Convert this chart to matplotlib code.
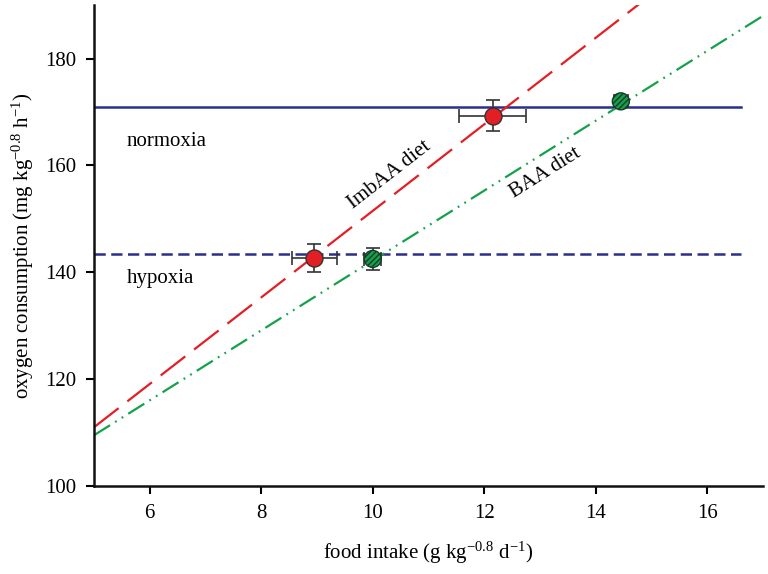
import numpy as np
import matplotlib
matplotlib.use("Agg")
import matplotlib.pyplot as plt

plt.rcParams["font.family"] = ["Liberation Serif", "DejaVu Serif"]
plt.rcParams["mathtext.fontset"] = "custom"
plt.rcParams["mathtext.rm"] = "Liberation Serif"
plt.rcParams["mathtext.it"] = "Liberation Serif:italic"
plt.rcParams["mathtext.default"] = "regular"

# 数据
imb_x = [8.95, 12.15]
imb_y = [142.7, 169.3]
imb_xerr = [0.4, 0.6]
imb_yerr = [2.6, 2.9]

baa_x = [10.0, 14.45]
baa_y = [142.5, 172.0]
baa_xerr = [0.15, 0.12]
baa_yerr = [2.0, 1.0]

imb_line_x = [5.0, 17.0]
imb_line_y = [111.0, 208.2]
baa_line_x = [5.0, 17.0]
baa_line_y = [109.5, 188.0]

normoxia = 171.0
hypoxia = 143.4
level_x = [5.0, 16.6]

fig = plt.figure(figsize=(7.68, 5.74), dpi=100)
ax = fig.add_axes([0.1224, 0.1533, 0.8711, 0.8377])

navy = "#2b2f8c"
red = "#e31e24"
green = "#13a24a"

ax.plot(level_x, [normoxia, normoxia], color=navy, lw=1.8, zorder=2)
ax.plot(level_x, [hypoxia, hypoxia], color=navy, lw=1.8, dashes=(4.5, 2.2), zorder=2)

ax.plot(imb_line_x, imb_line_y, color=red, lw=1.6, dashes=(14, 5), zorder=2)
ax.plot(baa_line_x, baa_line_y, color=green, lw=1.6,
        dashes=(8.5, 2.7, 0.8, 2.7, 0.8, 2.7), zorder=2)

ax.errorbar(imb_x, imb_y, xerr=imb_xerr, yerr=imb_yerr, fmt="none",
            ecolor="#333333", elinewidth=1.2, capsize=5, capthick=1.2, zorder=3)
ax.errorbar(baa_x, baa_y, xerr=baa_xerr, yerr=baa_yerr, fmt="none",
            ecolor="#333333", elinewidth=1.2, capsize=5, capthick=1.2, zorder=3)

ax.scatter(imb_x, imb_y, s=150, color=red, edgecolors="#333333",
           linewidths=1.0, zorder=4)
ax.scatter(baa_x, baa_y, s=150, color=green, edgecolors="#1a3a2a",
           linewidths=1.0, hatch="//////", zorder=4)

ax.text(6.3, 164.5, "normoxia", fontsize=15, ha="center", va="center")
ax.text(6.2, 138.8, "hypoxia", fontsize=15, ha="center", va="center")

slope_imb = (imb_line_y[1] - imb_line_y[0]) / (imb_line_x[1] - imb_line_x[0])
slope_baa = (baa_line_y[1] - baa_line_y[0]) / (baa_line_x[1] - baa_line_x[0])
ax.text(10.3, 158.3, "ImbAA diet", fontsize=15, ha="center", va="center",
        rotation=np.degrees(np.arctan(slope_imb)), transform_rotates_text=True,
        rotation_mode="anchor")
ax.text(13.1, 158.5, "BAA diet", fontsize=15, ha="center", va="center",
        rotation=np.degrees(np.arctan(slope_baa)), transform_rotates_text=True,
        rotation_mode="anchor")

ax.set_xlim(5, 17)
ax.set_ylim(100, 190)
ax.set_xticks([6, 8, 10, 12, 14, 16])
ax.set_yticks([100, 120, 140, 160, 180])
ax.tick_params(direction="out", length=6, width=1.5, labelsize=15, pad=7)
for side in ["top", "right"]:
    ax.spines[side].set_visible(False)
for side in ["left", "bottom"]:
    ax.spines[side].set_linewidth(1.8)
    ax.spines[side].set_color("#111111")

ax.set_xlabel("food intake (g kg$^{-0.8}$ d$^{-1}$)", fontsize=15, labelpad=12)
ax.set_ylabel("oxygen consumption (mg kg$^{-0.8}$ h$^{-1}$)", fontsize=15, labelpad=6)

fig.savefig("out.png", dpi=100)
